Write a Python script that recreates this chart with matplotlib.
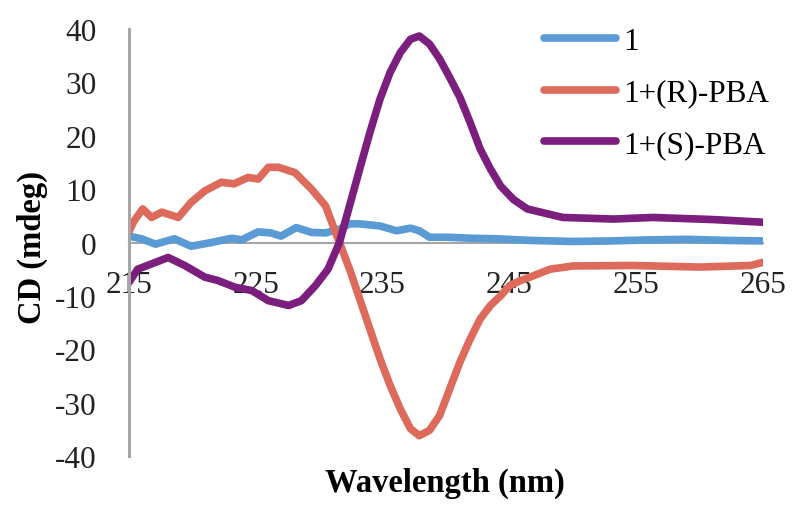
import matplotlib
matplotlib.use("Agg")
import matplotlib.pyplot as plt

plt.rcParams['font.family'] = ['Liberation Serif', 'DejaVu Serif']
plt.rcParams['axes.unicode_minus'] = False

# Series 1
x_1 = [215.0, 216.0, 217.1, 218.6, 219.9, 221.5, 223.1, 223.9, 225.2, 226.2, 227.0,
       228.2, 229.4, 230.5, 231.6, 232.4, 233.2, 234.8, 236.1, 237.2, 237.9, 238.7,
       240.0, 242.0, 244.0, 246.6, 250.0, 253.0, 256.0, 259.0, 262.0, 265.0]
y_1 = [1.2, 0.7, -0.3, 0.7, -0.7, 0.0, 0.8, 0.5, 2.0, 1.8, 1.2,
       2.8, 1.9, 1.8, 2.5, 3.5, 3.5, 3.1, 2.2, 2.7, 2.2, 1.0,
       1.0, 0.8, 0.7, 0.4, 0.2, 0.3, 0.5, 0.6, 0.4, 0.3]

# Series 1+(R)-PBA
x_r = [215.0, 215.4, 216.1, 216.8, 217.6, 218.9, 219.9, 221.0, 222.3, 223.3, 224.4,
       225.2, 226.0, 226.8, 228.1, 229.4, 230.5, 231.2, 231.6, 232.4, 233.2, 234.0,
       234.8, 235.6, 236.4, 237.2, 237.9, 238.7, 239.5, 240.3, 241.1, 241.9, 242.7,
       243.5, 244.3, 245.0, 245.8, 246.6, 248.2, 250.0, 254.7, 260.0, 264.0, 265.0]
y_r = [2.0, 4.0, 6.3, 4.7, 5.7, 4.7, 7.5, 9.7, 11.3, 11.0, 12.2,
       11.9, 14.1, 14.1, 13.1, 10.0, 6.9, 2.5, 0.0, -5.0, -10.6, -16.2,
       -21.8, -26.8, -31.2, -34.9, -36.2, -35.2, -32.4, -27.4, -22.4, -18.1, -14.3,
       -11.8, -10.0, -8.1, -7.2, -6.5, -5.0, -4.4, -4.3, -4.6, -4.3, -3.7]

# Series 1+(S)-PBA
x_s = [215.0, 215.7, 216.8, 218.1, 219.4, 221.0, 222.0, 223.4, 224.7, 226.0, 227.6,
       228.6, 229.7, 230.7, 231.6, 232.4, 233.2, 234.0, 234.8, 235.6, 236.4, 237.2,
       237.9, 238.7, 239.5, 240.3, 241.1, 241.9, 242.7, 243.5, 244.3, 245.3, 246.4,
       249.2, 253.2, 256.3, 261.1, 265.0]
y_s = [-7.5, -5.0, -4.0, -2.8, -4.3, -6.5, -7.1, -8.4, -9.0, -10.9, -11.8,
       -10.9, -8.1, -5.0, 0.0, 6.9, 13.8, 20.6, 26.9, 31.9, 35.6, 38.1,
       38.7, 37.2, 34.4, 30.9, 27.2, 22.5, 17.5, 13.8, 10.6, 8.1, 6.3,
       4.7, 4.4, 4.7, 4.3, 3.8]

labels = ['1', '1+(R)-PBA', '1+(S)-PBA']
colors = ['#5B9BD5', '#DE6A5C', '#7B1E7E']
x_ticks = [215, 225, 235, 245, 255, 265]
y_ticks = [-40, -30, -20, -10, 0, 10, 20, 30, 40]

fig = plt.figure(figsize=(8, 5.1), dpi=100)
ax = fig.add_axes([0.161, 0.104, 0.793, 0.837])

for xs, ys, lab, c in zip([x_1, x_r, x_s], [y_1, y_r, y_s], labels, colors):
    ax.plot(xs, ys, color=c, lw=5.5, label=lab, solid_capstyle='round',
            solid_joinstyle='round')

ax.set_xlim(215, 265)
ax.set_ylim(-40, 40)
ax.set_xticks(x_ticks)
ax.set_yticks(y_ticks)

for s in ['top', 'right']:
    ax.spines[s].set_visible(False)
ax.spines['bottom'].set_position(('data', 0))
ax.spines['bottom'].set_color('#A6A6A6')
ax.spines['bottom'].set_linewidth(1.5)
ax.spines['bottom'].set_zorder(0.5)
ax.spines['left'].set_color('#A6A6A6')
ax.spines['left'].set_linewidth(2.2)

ax.tick_params(axis='both', length=0, labelsize=22.5, colors='#222222')
ax.tick_params(axis='x', pad=20)
ax.tick_params(axis='y', pad=23)

fig.text(0.556, 0.053, 'Wavelength (nm)', ha='center', va='center',
         fontsize=23.5, fontweight='bold')
fig.text(0.04, 0.515, 'CD (mdeg)', ha='center', va='center', rotation=90,
         fontsize=23.5, fontweight='bold')

ax.legend(loc='upper left', bbox_to_anchor=(0.68, 0.945), bbox_transform=fig.transFigure,
          frameon=False, fontsize=22.5, handlelength=2.3, handletextpad=0.25,
          labelspacing=0.72, borderpad=0, borderaxespad=0)

fig.savefig('out.png', dpi=100)
